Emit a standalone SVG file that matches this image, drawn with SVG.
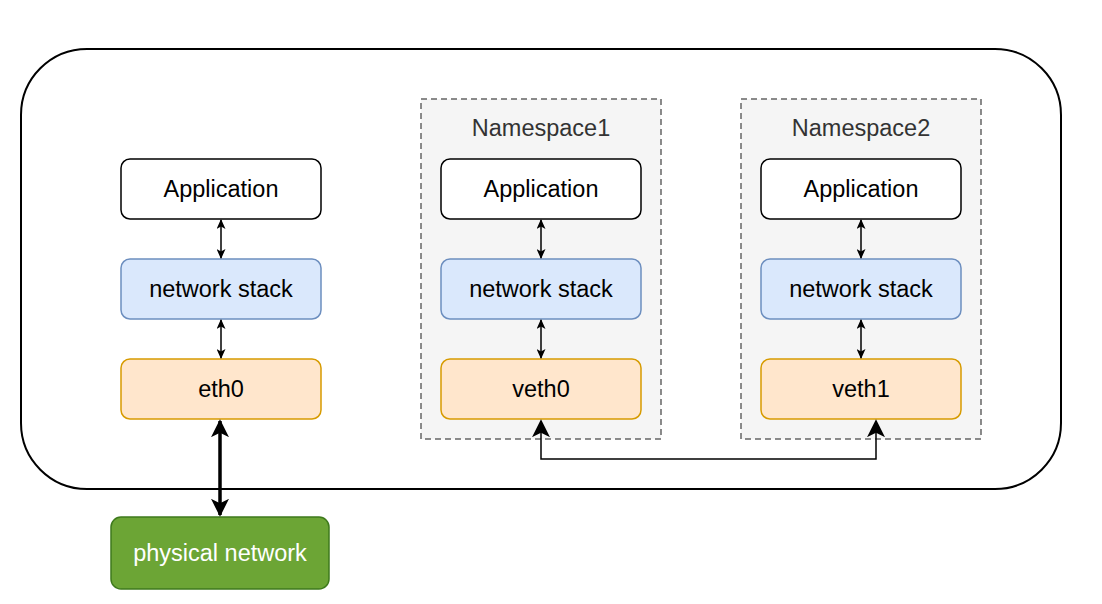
<svg xmlns="http://www.w3.org/2000/svg" width="1102" height="604" viewBox="0 0 1102 604">
<defs>
<style>
.t{font-family:"Liberation Sans",Arial,sans-serif;font-size:23.5px;text-anchor:middle;fill:#000}
.ns{font-family:"Liberation Sans",Arial,sans-serif;font-size:23.5px;text-anchor:middle;fill:#333}
.app{fill:#fff;stroke:#000;stroke-width:1.5}
.stk{fill:#dae8fc;stroke:#6c8ebf;stroke-width:1.5}
.eth{fill:#ffe6cc;stroke:#d79b00;stroke-width:1.5}
.nsbox{fill:#f5f5f5;stroke:#666;stroke-width:1.5;stroke-dasharray:6 4}
.c{fill:none;stroke:#000;stroke-width:1.5}
.ct{fill:none;stroke:#000;stroke-width:3.5}
</style>
<marker id="a" viewBox="0 0 10 10" refX="9" refY="5" markerWidth="10" markerHeight="9" markerUnits="userSpaceOnUse" orient="auto-start-reverse" preserveAspectRatio="none">
<path d="M0,0 L10,5 L0,10 L2.5,5 Z" fill="#000"/>
</marker>
<marker id="b" viewBox="0 0 10 10" refX="9" refY="5" markerWidth="18" markerHeight="18" markerUnits="userSpaceOnUse" orient="auto-start-reverse">
<path d="M0,0 L10,5 L0,10 L2.5,5 Z" fill="#000"/>
</marker>
</defs>
<rect width="1102" height="604" fill="#fff"/>
<rect id="host" x="21" y="49" width="1040" height="440" rx="66" fill="none" stroke="#000" stroke-width="2"/>
<g id="namespace1"><rect class="nsbox" x="421" y="99" width="240" height="340"/><text class="ns" x="541" y="136">Namespace1</text></g>
<g id="namespace2"><rect class="nsbox" x="741" y="99" width="240" height="340"/><text class="ns" x="861" y="136">Namespace2</text></g>
<g id="app0"><rect class="app" x="121" y="159" width="200" height="60" rx="9"/><text class="t" x="221" y="197">Application</text></g>
<g id="stack0"><rect class="stk" x="121" y="259" width="200" height="60" rx="9"/><text class="t" x="221" y="297">network stack</text></g>
<g id="eth0"><rect class="eth" x="121" y="359" width="200" height="60" rx="9"/><text class="t" x="221" y="397">eth0</text></g>
<g id="app1"><rect class="app" x="441" y="159" width="200" height="60" rx="9"/><text class="t" x="541" y="197">Application</text></g>
<g id="stack1"><rect class="stk" x="441" y="259" width="200" height="60" rx="9"/><text class="t" x="541" y="297">network stack</text></g>
<g id="veth0"><rect class="eth" x="441" y="359" width="200" height="60" rx="9"/><text class="t" x="541" y="397">veth0</text></g>
<g id="app2"><rect class="app" x="761" y="159" width="200" height="60" rx="9"/><text class="t" x="861" y="197">Application</text></g>
<g id="stack2"><rect class="stk" x="761" y="259" width="200" height="60" rx="9"/><text class="t" x="861" y="297">network stack</text></g>
<g id="veth1"><rect class="eth" x="761" y="359" width="200" height="60" rx="9"/><text class="t" x="861" y="397">veth1</text></g>
<g id="phys"><rect x="111" y="517" width="218" height="72" rx="10" fill="#6ca535" stroke="#3e7a1c" stroke-width="1.5"/><text class="t" x="220" y="561" style="fill:#fff">physical network</text></g>
<g id="connectors">
<line class="c" x1="221" y1="220" x2="221" y2="258" marker-start="url(#a)" marker-end="url(#a)"/>
<line class="c" x1="221" y1="320" x2="221" y2="358" marker-start="url(#a)" marker-end="url(#a)"/>
<line class="c" x1="541" y1="220" x2="541" y2="258" marker-start="url(#a)" marker-end="url(#a)"/>
<line class="c" x1="541" y1="320" x2="541" y2="358" marker-start="url(#a)" marker-end="url(#a)"/>
<line class="c" x1="861" y1="220" x2="861" y2="258" marker-start="url(#a)" marker-end="url(#a)"/>
<line class="c" x1="861" y1="320" x2="861" y2="358" marker-start="url(#a)" marker-end="url(#a)"/>
<line class="ct" x1="220" y1="421" x2="220" y2="515" marker-start="url(#b)" marker-end="url(#b)"/>
<polyline class="c" points="541,421 541,459 876,459 876,421" stroke-width="2" marker-start="url(#b)" marker-end="url(#b)"/>
</g>
</svg>
